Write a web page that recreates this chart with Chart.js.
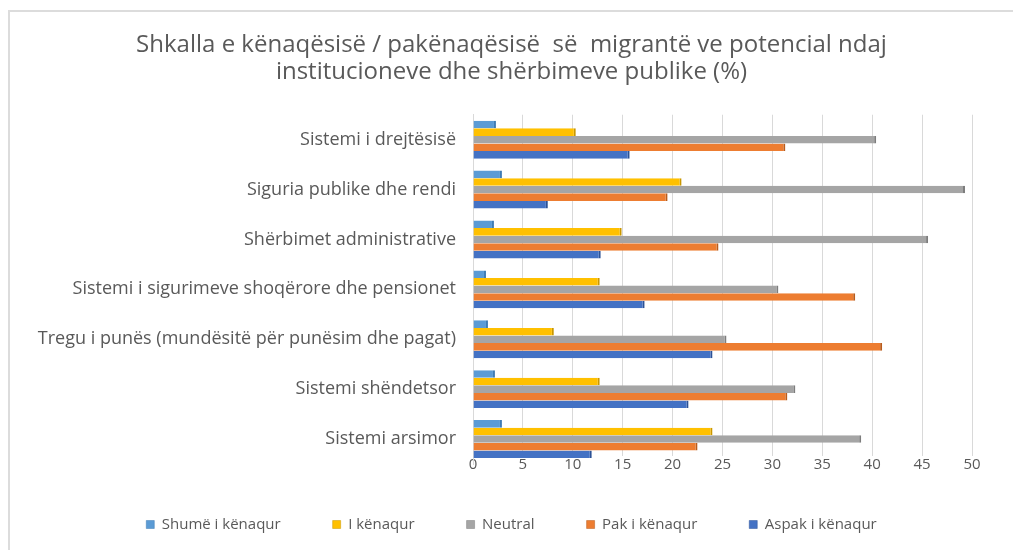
<!DOCTYPE html>
<html>
<head>
<meta charset="utf-8">
<script src="https://cdn.jsdelivr.net/npm/chart.js@4.4.1/dist/chart.umd.min.js"></script>
<style>
    html, body { margin: 0; padding: 0; background: #fff; }
    #wrap {
        position: absolute;
        left: 8px;
        top: 10px;
        width: 1005px;
        height: 540px;
        border-top: 2px solid #dcdcdc;
        border-left: 2px solid #dcdcdc;
        box-sizing: border-box;
    }
</style>
</head>
<body>
<div id="wrap"><canvas id="satisfaction-chart" width="1003" height="538"></canvas></div>
<script>
const categories = [
    'Sistemi i drejtësisë',
    'Siguria publike dhe rendi',
    'Shërbimet administrative',
    'Sistemi i sigurimeve shoqërore dhe pensionet',
    'Tregu i punës (mundësitë për punësim dhe pagat)',
    'Sistemi shëndetsor',
    'Sistemi arsimor'
];
const seriesNames = ['Shumë i kënaqur', 'I kënaqur', 'Neutral', 'Pak i kënaqur', 'Aspak i kënaqur'];
const shumeIKenaqur = [2.3, 2.9, 2.1, 1.3, 1.5, 2.2, 2.9];
const iKenaqur = [10.3, 20.9, 14.9, 12.7, 8.1, 12.7, 24.0];
const neutral = [40.4, 49.3, 45.6, 30.6, 25.4, 32.3, 38.9];
const pakIKenaqur = [31.3, 19.5, 24.6, 38.3, 41.0, 31.5, 22.5];
const aspakIKenaqur = [15.7, 7.5, 12.8, 17.2, 24.0, 21.6, 11.9];
const xTicks = [0, 5, 10, 15, 20, 25, 30, 35, 40, 45, 50];

const colors = ['#5B9BD5', '#FFC000', '#A5A5A5', '#ED7D31', '#4472C4'];
const edges = ['#3f7cb5', '#c99700', '#7d7d7d', '#b85c1d', '#2c5296'];
const values = [shumeIKenaqur, iKenaqur, neutral, pakIKenaqur, aspakIKenaqur];

const textColor = '#595959';
const fontFamily = '"Open Sans", "Liberation Sans", sans-serif';

const ctx = document.getElementById('satisfaction-chart');

new Chart(ctx, {
    type: 'bar',
    data: {
        labels: categories,
        datasets: seriesNames.map((name, i) => ({
            label: name,
            data: values[i],
            backgroundColor: colors[i],
            borderColor: edges[i],
            borderWidth: { top: 0, bottom: 0, left: 0, right: 2 },
            borderSkipped: false,
            categoryPercentage: 0.76,
            barPercentage: 1.0
        }))
    },
    options: {
        indexAxis: 'y',
        responsive: false,
        animation: false,
        layout: {
            padding: { left: 0, right: 0, top: 0, bottom: 8 }
        },
        plugins: {
            title: {
                display: true,
                text: [
                    'Shkalla e kënaqësisë / pakënaqësisë  së  migrantë ve potencial ndaj',
                    'institucioneve dhe shërbimeve publike (%)'
                ],
                color: textColor,
                font: { family: fontFamily, size: 24, weight: 'normal', lineHeight: 1.14 },
                padding: { top: 19, bottom: 29 }
            },
            legend: {
                position: 'bottom',
                labels: {
                    color: textColor,
                    font: { family: fontFamily, size: 15 },
                    boxWidth: 8,
                    boxHeight: 8,
                    padding: 52
                }
            },
            tooltip: { enabled: false }
        },
        scales: {
            x: {
                min: 0,
                max: 50,
                afterBuildTicks: scale => {
                    scale.ticks = xTicks.map(v => ({ value: v }));
                },
                afterFit: scale => {
                    scale.height = 1;
                },
                ticks: {
                    color: textColor,
                    font: { family: fontFamily, size: 15 },
                    mirror: true,
                    padding: -10,
                    showLabelBackdrop: true,
                    backdropColor: '#ffffff',
                    backdropPadding: { top: 0, bottom: 4, left: 3, right: 3 }
                },
                grid: { color: '#d9d9d9', drawTicks: false },
                border: { display: false }
            },
            y: {
                afterFit: scale => {
                    scale.width = 463;
                },
                ticks: {
                    color: textColor,
                    font: { family: fontFamily, size: 18 },
                    padding: 9
                },
                grid: { display: false },
                border: { color: '#d9d9d9' }
            },
            // empty right-hand strip so the plot ends where the reference does
            yRight: {
                type: 'category',
                position: 'right',
                afterFit: scale => {
                    scale.width = 41;
                },
                ticks: { display: false },
                grid: { display: false },
                border: { display: false }
            }
        }
    }
});
</script>
</body>
</html>
